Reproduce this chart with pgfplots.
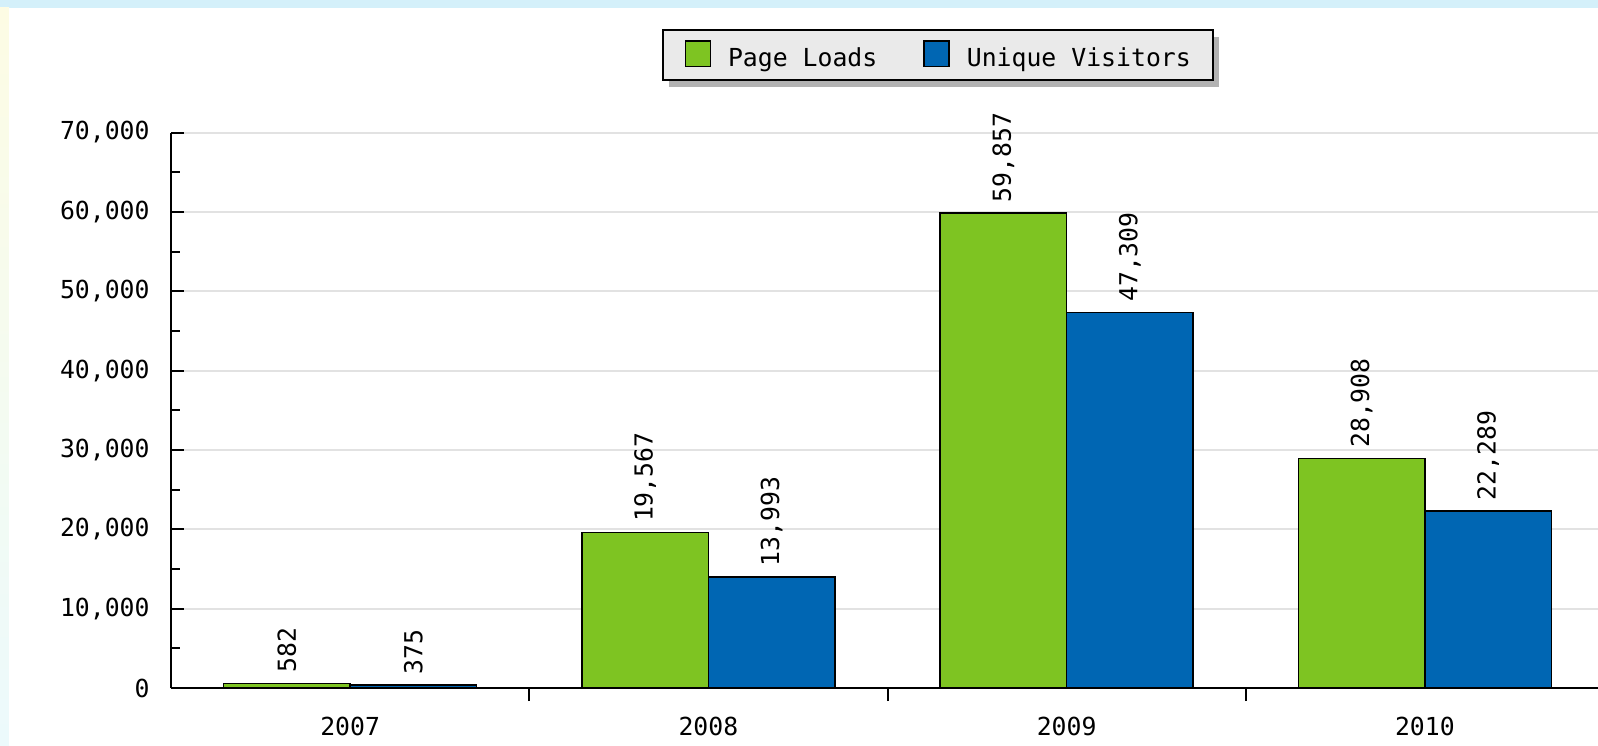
\documentclass[border=0pt]{standalone}
\usepackage{fontspec}
\setmainfont{DejaVu Sans Mono}
\usepackage{pgfplots}
\pgfplotsset{compat=1.18}
\usetikzlibrary{shadows}
\definecolor{plgreen}{RGB}{126,196,34}
\definecolor{uvblue}{RGB}{0,102,179}
\definecolor{gridgray}{RGB}{226,226,226}
\definecolor{legfill}{RGB}{234,234,234}
\definecolor{shadowgray}{RGB}{178,178,178}
\definecolor{bgtop}{RGB}{212,240,250}
\definecolor{bgleftT}{RGB}{253,252,228}
\definecolor{bgleftB}{RGB}{236,250,252}
\makeatletter
\newcommand\nopreactions{\let\tikz@preactions\pgfutil@empty}
\makeatother
\pgfplotsset{sqlegend/.style={legend image code/.code={\nopreactions\draw[##1,draw=black,line width=0.75pt,/utils/exec=\nopreactions] (0pt,-3.75pt) rectangle (12.5pt,8.95pt);}}}
\begin{document}
\begin{tikzpicture}[font=\fontsize{12.4}{14}\selectfont]
\fill[bgtop] (0,0) rectangle (799pt,372.5pt);
\shade[top color=bgleftT, bottom color=bgleftB] (0,0) rectangle (4.5pt,368.5pt);
\fill[white] (4.5pt,0) rectangle (799pt,368.5pt);
\begin{axis}[
  scale only axis, width=716.5pt, height=277.75pt,
  at={(85.5pt,28.5pt)}, anchor=south west,
  xmin=-0.5, xmax=3.5, ymin=0, ymax=70000,
  clip=false,
  axis x line=bottom, axis y line=left,
  axis line style={line width=1pt, -},
  tick align=inside,
  tick style={black, line width=1pt},
  major tick length=6.5pt, minor tick length=4.5pt,
  ytick={0,10000,...,70000}, minor y tick num=1,
  ymajorgrids, major grid style={gridgray, line width=1pt},
  scaled y ticks=false,
  /pgf/number format/1000 sep={,},
  /pgf/number format/assume math mode=true,
  yticklabel style={anchor=east, inner sep=0pt, xshift=-10.5pt},
  xtick={0.5,1.5,2.5}, xticklabels={,,},
  extra x ticks={0,1,2,3},
  extra x tick labels={2007,2008,2009,2010},
  extra x tick style={major tick length=0pt},
  xticklabel style={anchor=north, inner sep=0pt, yshift=-14.5pt},
  ybar=0pt, bar width=63.2pt,
  nodes near coords,
  every node near coord/.append style={rotate=90, anchor=west, inner sep=0pt, inner xsep=5pt, black},
  legend columns=-1,
  legend style={at={(0.535,1.1392)}, anchor=center, draw=black, line width=1pt,
    fill=legfill, drop shadow={shadow xshift=3.3pt, shadow yshift=-3.5pt, fill=shadowgray, opacity=1},
    inner xsep=11pt, inner ysep=5.2pt, nodes={inner sep=0pt},
    /tikz/every odd column/.append style={column sep=8.5pt},
    /tikz/every even column/.append style={column sep=23pt}},
]
\addplot[fill=plgreen, draw=black, line width=0.75pt, sqlegend] coordinates {(0,582) (1,19567) (2,59857) (3,28908)};
\addlegendentry{Page Loads}
\addplot[fill=uvblue, draw=black, line width=0.75pt, sqlegend] coordinates {(0,375) (1,13993) (2,47309) (3,22289)};
\addlegendentry{Unique Visitors}
\end{axis}
\pgfresetboundingbox
\path[use as bounding box] (0,0) rectangle (799pt,372.5pt);
\end{tikzpicture}
\end{document}
